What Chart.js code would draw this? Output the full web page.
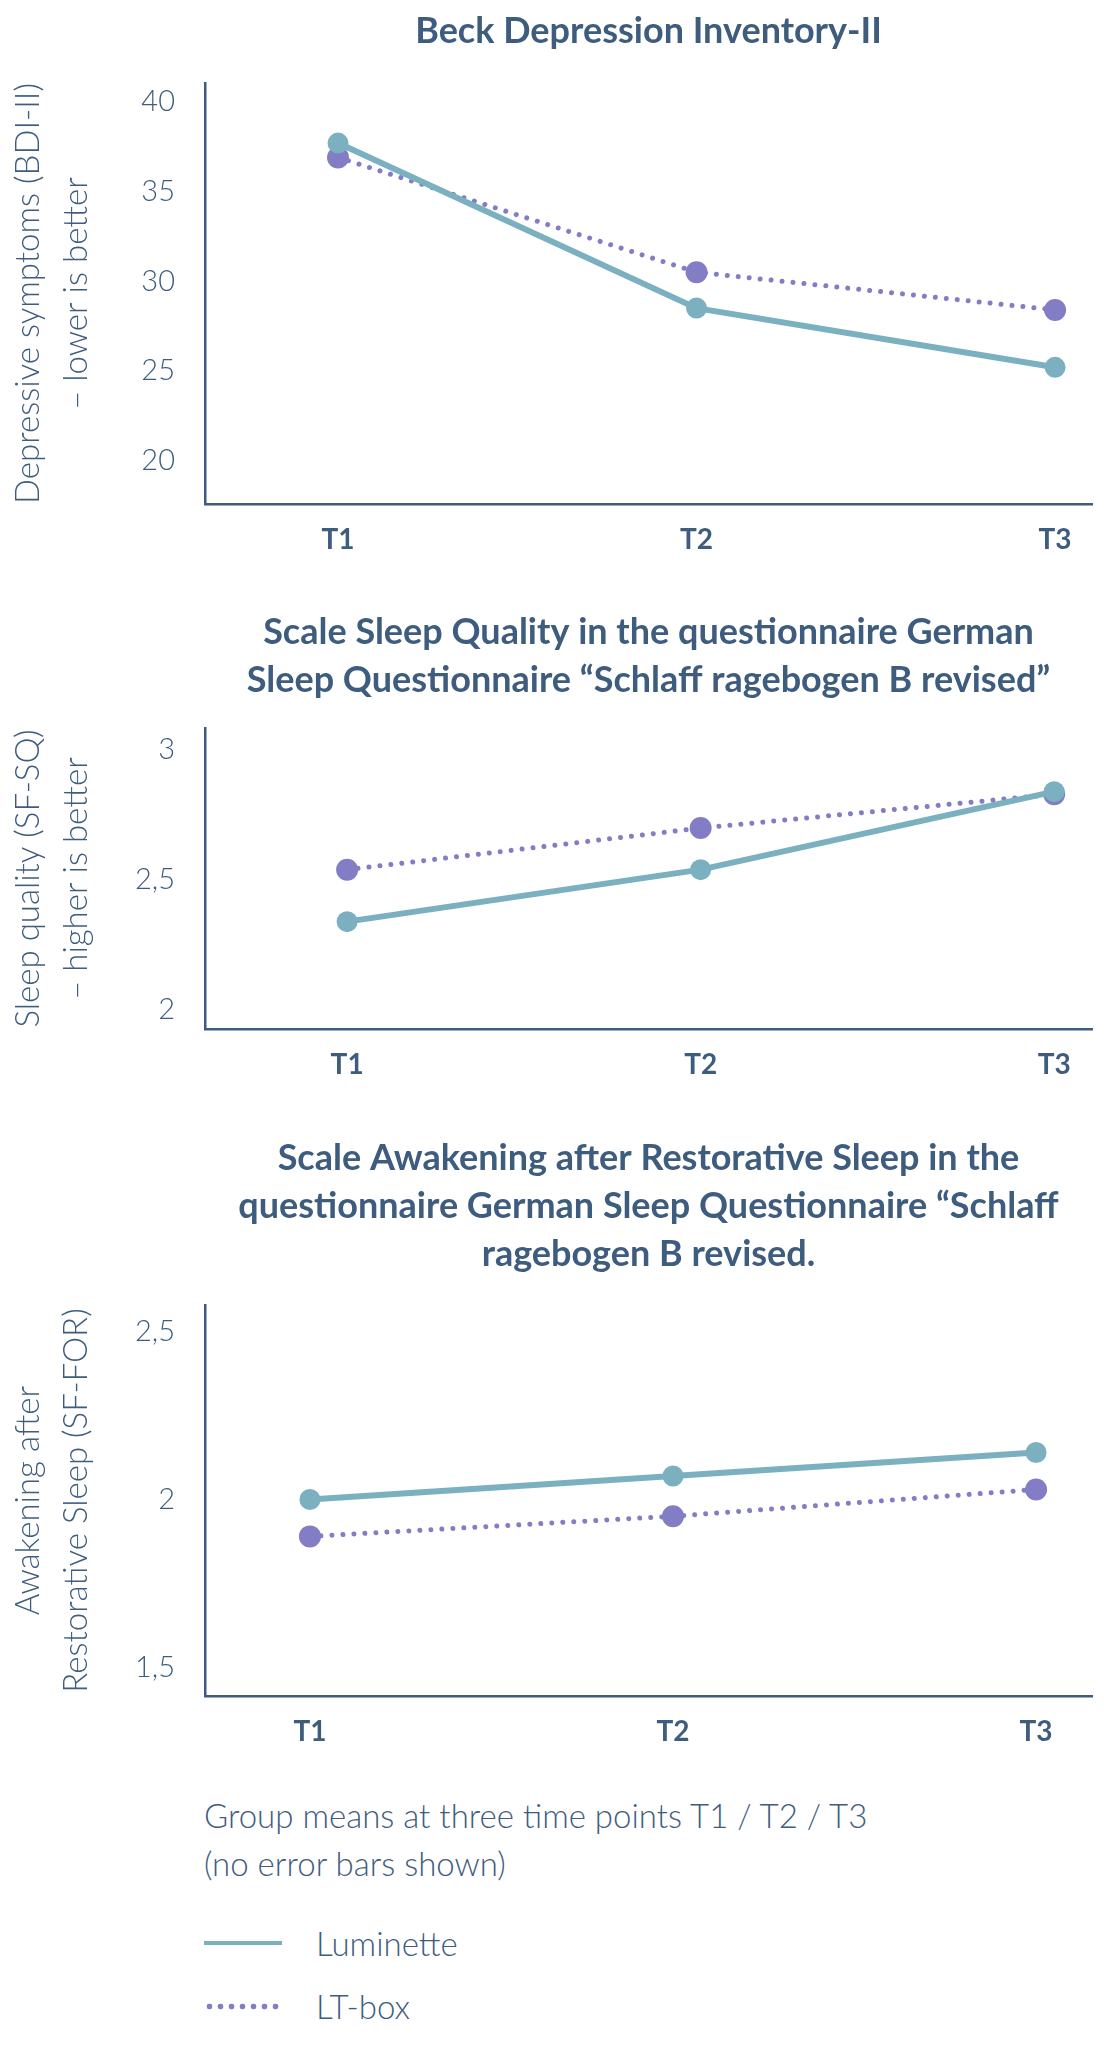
<!DOCTYPE html>
<html>
<head>
<meta charset="utf-8">
<title>Luminette vs LT-box</title>
<script src="https://cdn.jsdelivr.net/npm/chart.js@4.4.1/dist/chart.umd.min.js"></script>
<style>
body{margin:0;background:#fff;width:1104px;height:2056px;position:relative;font-family:Lato,sans-serif;color:#3e5c7e;overflow:hidden;}
canvas{position:absolute;left:0;}
#note{position:absolute;left:204px;top:1791px;font-size:33px;line-height:48px;font-weight:300;}
.leg{position:absolute;left:204px;height:40px;font-size:33px;font-weight:300;display:flex;align-items:center;}
.leg .mark{display:inline-block;width:78px;margin-right:34px;}
#legLumi .mark{height:4px;background:#7ab0c0;}
#legBox .mark{height:7px;background:radial-gradient(circle,#827dc4 2.6px,transparent 3.2px) 0 0/11px 7px repeat-x;}
</style>
</head>
<body>
<canvas id="bdi" width="1104" height="580" style="top:0px"></canvas>
<canvas id="sq" width="1104" height="525" style="top:580px"></canvas>
<canvas id="sfor" width="1104" height="667" style="top:1105px"></canvas>

<div id="note">Group means at three time points T1 / T2 / T3<br>(no error bars shown)</div>
<div class="leg" id="legLumi" style="top:1923px"><span class="mark"></span>Luminette</div>
<div class="leg" id="legBox" style="top:1986px"><span class="mark"></span>LT-box</div>

<script>
// ---------------- DATA ----------------
const timeLabels = ["T1", "T2", "T3"];

const bdiLuminette = [37.7, 28.5, 25.2];
const bdiLtBox = [36.9, 30.5, 28.4];

const sqLuminette = [2.34, 2.54, 2.84];
const sqLtBox = [2.54, 2.70, 2.83];

const forLuminette = [2.00, 2.07, 2.14];
const forLtBox = [1.89, 1.95, 2.03];

const TEXT = "#3e5c7e";
const TEAL = "#7ab0c0";
const PURPLE = "#827dc4";

Chart.defaults.font.family = "Lato, 'Open Sans', sans-serif";
Chart.defaults.color = TEXT;

function toPoints(arr){
    return arr.map((v, i) => ({x: i, y: v}));
}

// ---------------- ONE CHART ----------------
function drawChart(id, opt){
    new Chart(document.getElementById(id), {
        type: "line",
        data: {
            datasets: [
                {
                    label: "Luminette",
                    data: toPoints(opt.lumi),
                    borderColor: TEAL,
                    backgroundColor: TEAL,
                    borderWidth: 6,
                    pointRadius: 10.5,
                    pointHoverRadius: 10.5,
                    pointBorderWidth: 0
                },
                {
                    label: "LT-box",
                    data: toPoints(opt.box),
                    borderColor: PURPLE,
                    backgroundColor: PURPLE,
                    borderWidth: 5,
                    borderDash: [0.01, 11],
                    borderCapStyle: "round",
                    pointRadius: 11,
                    pointHoverRadius: 11,
                    pointBorderWidth: 0
                }
            ]
        },
        options: {
            responsive: false,
            animation: false,
            layout: {padding: {left: 0, right: 12, top: 0, bottom: 0}},
            plugins: {
                legend: {display: false},
                tooltip: {enabled: false},
                title: {
                    display: true,
                    text: opt.title,
                    fullSize: false,
                    color: TEXT,
                    font: {size: 36, weight: "bold", lineHeight: 48 / 36},
                    padding: {top: opt.titleTop, bottom: opt.titleBottom}
                }
            },
            scales: {
                x: {
                    type: "linear",
                    min: opt.xMin,
                    max: opt.xMax,
                    grid: {display: false, drawTicks: false},
                    border: {display: true, color: TEXT, width: 2.5},
                    afterFit: s => { s.height = 76; },
                    ticks: {
                        stepSize: 1,
                        includeBounds: false,
                        padding: 19,
                        color: TEXT,
                        font: {size: 28, weight: "bold"},
                        callback: v => timeLabels[v] || ""
                    }
                },
                y: {
                    min: opt.yMin,
                    max: opt.yMax,
                    grid: {display: false, drawTicks: false},
                    border: {display: true, color: TEXT, width: 2.5},
                    afterFit: s => { s.width = 205; },
                    title: {
                        display: true,
                        text: opt.yTitle,
                        color: TEXT,
                        font: {size: 33, weight: 300, lineHeight: 48 / 33},
                        padding: {top: 4, bottom: 0}
                    },
                    ticks: {
                        stepSize: opt.yStep,
                        includeBounds: false,
                        padding: 30,
                        color: TEXT,
                        font: {size: 29, weight: 300},
                        callback: v => String(v).replace(".", ",")
                    }
                }
            }
        }
    });
}

drawChart("bdi", {
    title: "Beck Depression Inventory-II",
    yTitle: ["Depressive symptoms (BDI-II)", "\u2013 lower is better"],
    lumi: bdiLuminette, box: bdiLtBox,
    yMin: 17.58, yMax: 41.05, yStep: 5,
    xMin: -0.371, xMax: 2.103,
    titleTop: 7, titleBottom: 28
});

drawChart("sq", {
    title: ["Scale Sleep Quality in the questionnaire German",
            "Sleep Questionnaire \u201cSchlaff ragebogen B revised\u201d"],
    yTitle: ["Sleep quality (SF-SQ)", "\u2013 higher is better"],
    lumi: sqLuminette, box: sqLtBox,
    yMin: 1.927, yMax: 3.085, yStep: 0.5,
    xMin: -0.402, xMax: 2.107,
    titleTop: 28, titleBottom: 24
});

drawChart("sfor", {
    title: ["Scale Awakening after Restorative Sleep in the",
            "questionnaire German Sleep Questionnaire \u201cSchlaff",
            "ragebogen B revised."],
    yTitle: ["Awakening after", "Restorative Sleep (SF-FOR)"],
    lumi: forLuminette, box: forLtBox,
    yMin: 1.414, yMax: 2.58, yStep: 0.5,
    xMin: -0.289, xMax: 2.154,
    titleTop: 29, titleBottom: 27
});
</script>
</body>
</html>
